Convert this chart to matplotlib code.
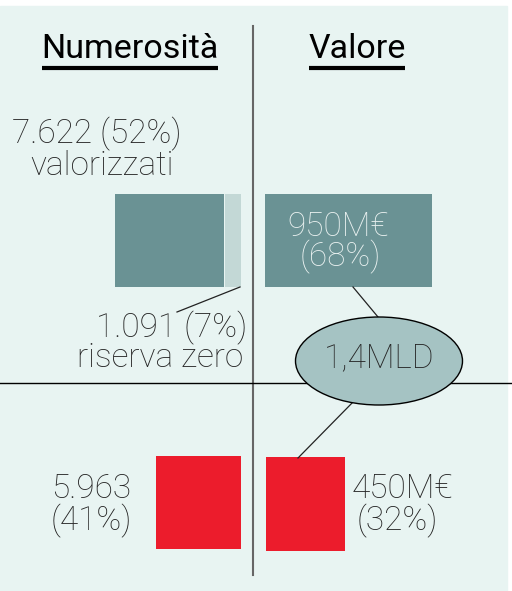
import matplotlib.pyplot as plt
from matplotlib.patches import Rectangle, Ellipse

# data
count_labels = ['valorizzati', 'riserva zero', 'altri']
count_values = [7622, 1091, 5963]
count_pct = [52, 7, 41]
value_labels = ['valorizzati', 'altri']
value_meur = [950, 450]
value_pct = [68, 32]
total_label = '1,4MLD'

teal = '#6a9294'
light = '#c3d8d6'
red = '#ec1c2c'
bg = '#e8f4f2'
txt = '#262626'

plt.rcParams['font.family'] = ['Roboto', 'DejaVu Sans']

fig = plt.figure(figsize=(5.12, 5.91), dpi=100)
ax = fig.add_axes([0, 0, 1, 1])
ax.set_xlim(0, 512)
ax.set_ylim(591, 0)
ax.axis('off')

ax.add_patch(Rectangle((0, 6), 507, 585, color=bg, zorder=0))

# dividers
ax.plot([253, 253], [26, 575], color='#666666', lw=1.5, zorder=1)
ax.plot([0, 512], [383, 383], color='black', lw=1, zorder=1)

# titles, underlined
for x, t in [(130, 'Numerosità'), (357, 'Valore')]:
    tt = ax.text(x, 49, t, ha='center', va='center', fontsize=24.5, color='black')
    fig.canvas.draw()
    bb = tt.get_window_extent().transformed(ax.transData.inverted())
    ax.plot([bb.x0 + 1, bb.x1 - 1], [68, 68], color='black', lw=3, solid_capstyle='butt')

# left side: counts, width proportional
k_count = 109 / count_values[0]
x0 = 115
w0 = count_values[0] * k_count
w1 = count_values[1] * k_count
ax.barh(240.5, w0, height=93, left=x0, color=teal, zorder=2)
ax.barh(240.5, w1, height=93, left=x0 + w0 + 1, color=light, zorder=2)
w2 = count_values[2] * k_count
ax.barh(502.5, w2, height=93, left=241 - w2, color=red, zorder=2)

# right side: values
k_val = 0.176
ax.barh(240.5, value_meur[0] * k_val, height=93, left=265, color=teal, zorder=2)
ax.barh(504, value_meur[1] * k_val, height=94, left=266, color=red, zorder=2)

fs = 24
kw = dict(ha='center', va='center', fontsize=fs, color=txt, fontweight='light')
ax.text(97, 134, f'7.622 ({count_pct[0]}%)', **kw)
ax.text(102, 166, count_labels[0], **kw)

ax.plot([240, 177], [287, 312], color='#222222', lw=0.9, zorder=3)
ax.text(172, 328, f'1.091 ({count_pct[1]}%)', **kw)
ax.text(160, 358, count_labels[1], **kw)

ax.text(91, 489, '5.963', **kw)
ax.text(91, 521, f'({count_pct[2]}%)', **kw)

kw_w = dict(kw, color='#e8f0ef', zorder=3)
ax.text(338, 227, f'{value_meur[0]}M€', **kw_w)
ax.text(340, 257, f'({value_pct[0]}%)', **kw_w)

ax.text(402, 489, f'{value_meur[1]}M€', **kw)
ax.text(397, 521, f'({value_pct[1]}%)', **kw)

# total ellipse
ax.plot([353, 378], [287, 317], color='#222222', lw=0.9, zorder=3)
ax.plot([355, 298], [400, 458], color='#222222', lw=0.9, zorder=3)
ax.add_patch(Ellipse((379, 361), 167, 88, facecolor='#a5c3c3', edgecolor='black',
                     lw=1, zorder=4))
ax.text(379, 358, total_label, **dict(kw, zorder=5))

fig.savefig('out.png', dpi=100)
